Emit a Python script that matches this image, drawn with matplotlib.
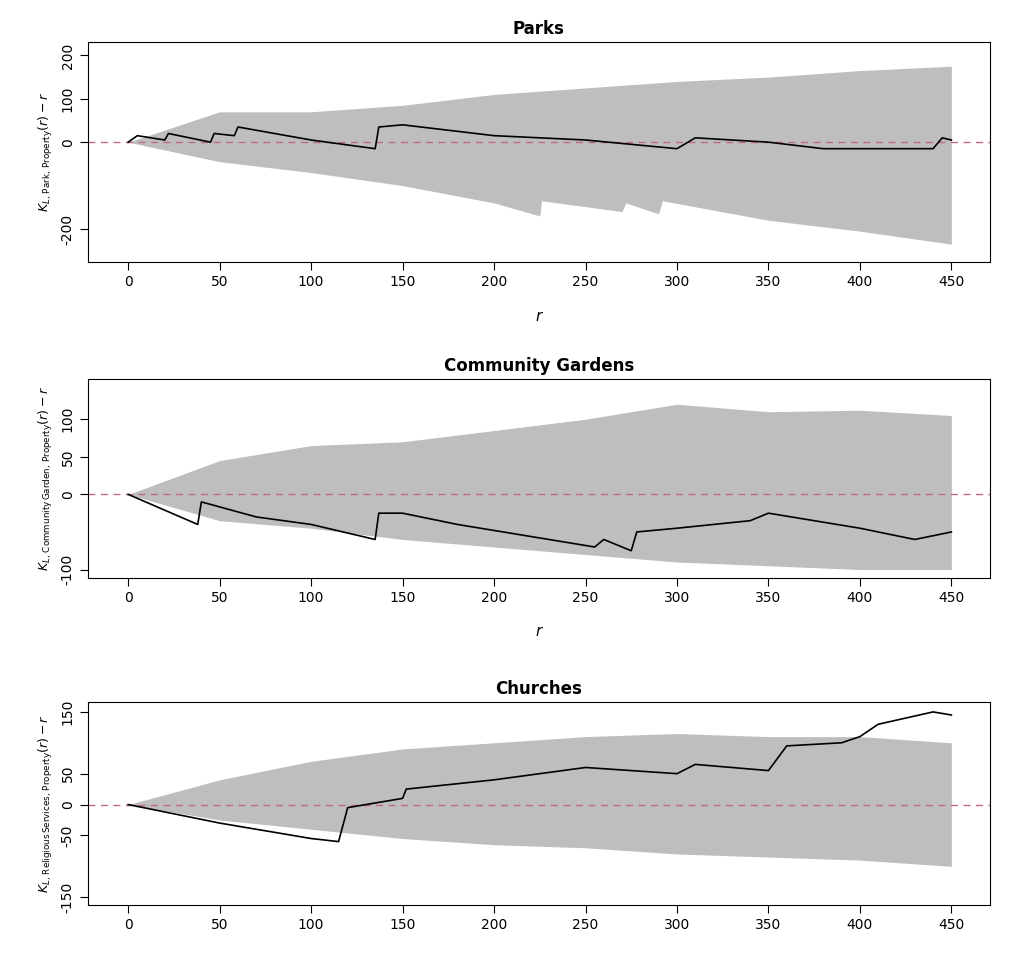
import numpy as np
import matplotlib
matplotlib.use("Agg")
import matplotlib.pyplot as plt

titles = ["Parks", "Community Gardens", "Churches"]
ylabels = [r"$K_{L,\,\mathrm{Park,\,Property}}(r)-r$",
           r"$K_{L,\,\mathrm{Community\,Garden,\,Property}}(r)-r$",
           r"$K_{L,\,\mathrm{Religious\,Services,\,Property}}(r)-r$"]
yticks = [[-200, 0, 100, 200], [-100, 0, 50, 100], [-150, -50, 0, 50, 150]]
yticklabels = [["-200", "0", "100", "200"], ["-100", "0", "50", "100"],
               ["-150", "-50", "0", "50", "150"]]
xticks = [0, 50, 100, 150, 200, 250, 300, 350, 400, 450]

# envelope knots (r, value)
parks_hi_r = [0, 25, 50, 100, 150, 200, 250, 300, 350, 400, 450]
parks_hi = [0, 35, 70, 70, 85, 110, 125, 140, 150, 165, 175]
parks_lo_r = [0, 50, 100, 150, 200, 225, 226, 270, 272, 290, 292, 350, 400, 450]
parks_lo = [0, -45, -70, -100, -140, -170, -135, -160, -140, -165, -135, -180, -205, -235]
parks_obs_r = [0, 5, 20, 22, 45, 47, 58, 60, 100, 135, 137, 150, 200, 250, 300, 310, 350, 380, 440, 445, 450]
parks_obs = [0, 15, 5, 20, 0, 20, 15, 35, 5, -15, 35, 40, 15, 5, -15, 10, 0, -15, -15, 10, 5]

gard_hi_r = [0, 50, 100, 150, 200, 250, 300, 350, 400, 450]
gard_hi = [0, 45, 65, 70, 85, 100, 120, 110, 112, 105]
gard_lo_r = [0, 50, 100, 150, 200, 250, 300, 400, 450]
gard_lo = [0, -35, -45, -60, -70, -80, -90, -100, -100]
gard_obs_r = [0, 38, 40, 70, 100, 135, 137, 150, 180, 255, 260, 275, 278, 300, 340, 350, 400, 430, 450]
gard_obs = [0, -40, -10, -30, -40, -60, -25, -25, -40, -70, -60, -75, -50, -45, -35, -25, -45, -60, -50]

church_hi_r = [0, 50, 100, 150, 200, 250, 300, 350, 400, 450]
church_hi = [0, 40, 70, 90, 100, 110, 115, 110, 110, 100]
church_lo_r = [0, 50, 100, 150, 200, 250, 300, 350, 400, 450]
church_lo = [0, -25, -40, -55, -65, -70, -80, -85, -90, -100]
church_obs_r = [0, 50, 100, 115, 120, 150, 152, 200, 250, 300, 310, 350, 360, 390, 400, 410, 440, 450]
church_obs = [0, -30, -55, -60, -5, 10, 25, 40, 60, 50, 65, 55, 95, 100, 110, 130, 150, 145]

panels = [
    (parks_hi_r, parks_hi, parks_lo_r, parks_lo, parks_obs_r, parks_obs),
    (gard_hi_r, gard_hi, gard_lo_r, gard_lo, gard_obs_r, gard_obs),
    (church_hi_r, church_hi, church_lo_r, church_lo, church_obs_r, church_obs),
]
ylims = [(-276, 230), (-111, 153), (-163, 166)]
rects = [[0.087, 0.728, 0.892, 0.228], [0.087, 0.400, 0.892, 0.206], [0.087, 0.060, 0.892, 0.211]]

fig = plt.figure(figsize=(10.11, 9.63), dpi=100)
for i, (hr, hv, lr, lv, orr, ov) in enumerate(panels):
    ax = fig.add_axes(rects[i])
    grid = np.union1d(hr, lr)
    ax.fill_between(grid, np.interp(grid, lr, lv), np.interp(grid, hr, hv),
                    color="#bebebe", lw=0)
    ax.axhline(0, color="#c06a85", ls=(0, (5, 4)), lw=1)
    ax.plot(orr, ov, color="black", lw=1.2)
    ax.set_xlim(-22, 471)
    ax.set_ylim(*ylims[i])
    ax.set_xticks(xticks)
    ax.set_yticks(yticks[i])
    ax.set_yticklabels(yticklabels[i], rotation=90, va="center")
    ax.tick_params(labelsize=10, direction="out", length=6)
    ax.set_title(titles[i], fontweight="bold", fontsize=12)
    ax.set_ylabel(ylabels[i], fontsize=9)
    if i < 2:
        ax.set_xlabel("r", fontstyle="italic", fontsize=11, labelpad=14)
fig.savefig("out.png", dpi=100)
